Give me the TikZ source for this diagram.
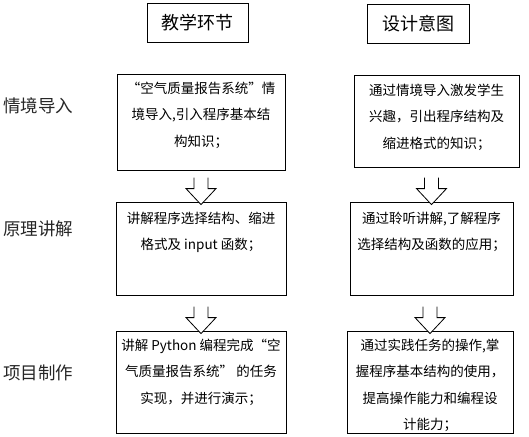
\documentclass[tikz,border=0pt]{standalone}
\usepackage{fontspec}
\setmainfont{Noto Sans CJK SC}
\usepackage{tikz}
\usetikzlibrary{positioning,calc}

\tikzset{
  box/.style={draw, line width=0.8pt, inner sep=0pt},
  boxtext/.style={inner sep=0pt, align=center, font=\fontsize{13.5}{26.5}\selectfont},
  headtext/.style={font=\fontsize{18}{20}\selectfont},
  sidetext/.style={font=\fontsize{17.5}{20}\selectfont, text=black!85},
  hollow/.style={draw, line width=0.8pt, fill=white}
}

% hollow down arrow from the box above to the box below
\newcommand{\flowarrow}[2]{%
  \coordinate (tip) at ($(#2.north)+(0,3)$);
  \draw[hollow] ($(tip)+(-7,-27)$) -- ($(tip)+(-7,-16)$) -- ($(tip)+(-15,-16)$)
    -- (tip) -- ($(tip)+(15,-16)$) -- ($(tip)+(7,-16)$) -- ($(tip)+(7,-27)$);
}

\begin{document}
\begin{tikzpicture}[x=1pt,y=-1pt]
  \useasboundingbox (0,0) rectangle (529,436);

  % column heads
  \node[box, minimum width=101, minimum height=39, headtext] (headL) at (197.5,22.5) {教学环节};
  \node[box, minimum width=102, minimum height=39, headtext] (headR) at (418,23.5) {设计意图};

  % stage names
  \node[sidetext] (stageA) at (38,106) {情境导入};
  \node[sidetext] (stageB) at (38,229) {原理讲解};
  \node[sidetext] (stageC) at (38,373) {项目制作};

  % row 1
  \node[box, minimum width=168, minimum height=96] (teachA) at (201,122) {};
  \node[boxtext, below=8pt of teachA.north] (teachAtxt)
    {“空气质量报告系统”情\\境导入,引入程序基本结\\构知识；};
  \node[box, minimum width=165, minimum height=92] (aimA) at (436.5,121) {};
  \node[boxtext, below=9pt of aimA.north] (aimAtxt)
    {通过情境导入激发学生\\兴趣，引出程序结构及\\缩进格式的知识；};

  % row 2
  \node[box, minimum width=170, minimum height=93] (teachB) at (201,248.5) {};
  \node[boxtext, below=10pt of teachB.north] (teachBtxt)
    {讲解程序选择结构、缩进\\格式及 input 函数；};
  \node[box, minimum width=163, minimum height=93] (aimB) at (431.5,248.5) {};
  \node[boxtext, below=10pt of aimB.north] (aimBtxt)
    {通过聆听讲解,了解程序\\选择结构及函数的应用；};

  % row 3
  \node[box, minimum width=170, minimum height=102] (teachC) at (201,382) {};
  \node[boxtext, below=8pt of teachC.north] (teachCtxt)
    {讲解 Python 编程完成“空\\气质量报告系统” 的任务\\实现，并进行演示；};
  \node[box, minimum width=166, minimum height=102] (aimC) at (430,382) {};
  \node[boxtext, below=8pt of aimC.north] (aimCtxt)
    {通过实践任务的操作,掌\\握程序基本结构的使用，\\提高操作能力和编程设\\计能力；};

  % arrows
  \flowarrow{teachA}{teachB}
  \flowarrow{aimA}{aimB}
  \flowarrow{teachB}{teachC}
  \flowarrow{aimB}{aimC}
\end{tikzpicture}
\end{document}
